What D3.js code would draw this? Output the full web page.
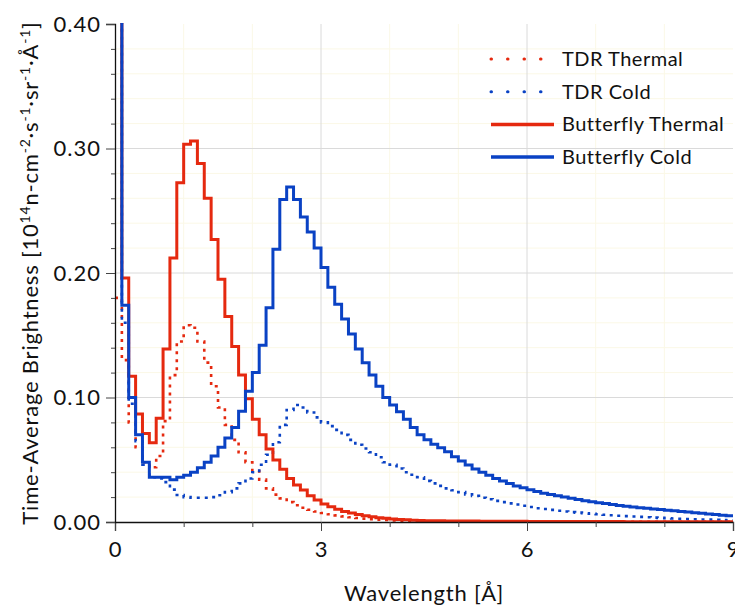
<!DOCTYPE html>
<html>
<head>
<meta charset="utf-8">
<script src="https://cdn.jsdelivr.net/npm/d3@7"></script>
<style>
  body { margin: 0; background: #fff; }
  svg { display: block; font-family: Lato, "DejaVu Sans", sans-serif; }
</style>
</head>
<body>
<div id="chart"></div>
<script>
// Time-average brightness spectra, 0.1 A bins from 0 to 9 A

const binWidth = 0.1;
const xTicks = [0, 3, 6, 9];
const xMinorTicks = [1, 2, 4, 5, 7, 8];
const yTicks = [0, 0.1, 0.2, 0.3, 0.4];
const yMinorTicks = [0.02, 0.04, 0.06, 0.08, 0.12, 0.14, 0.16, 0.18, 0.22, 0.24, 0.26, 0.28, 0.32, 0.34, 0.36, 0.38];

const seriesNames = ["TDR Thermal", "TDR Cold", "Butterfly Thermal", "Butterfly Cold"];

const tdrThermal = [
  0.18, 0.13, 0.08, 0.06, 0.048, 0.044, 0.053, 0.081, 0.118, 0.145,
  0.158, 0.156, 0.145, 0.128, 0.109, 0.092, 0.078, 0.066, 0.056, 0.048,
  0.041, 0.034, 0.027, 0.022, 0.019, 0.016, 0.0135, 0.0115, 0.0098, 0.0084,
  0.0072, 0.0062, 0.0053, 0.0045, 0.0038, 0.0032, 0.0027, 0.0023, 0.0019, 0.0016,
  0.0013, 0.0011, 0.0009, 0.0008, 0.0007, 0.0006, 0.0005, 0.0005, 0.0004, 0.0004,
  0.0004, 0.0003, 0.0003, 0.0003, 0.0003, 0.0002, 0.0002, 0.0002, 0.0002, 0.0002,
  0.0002, 0.0002, 0.0001, 0.0001, 0.0001, 0.0001, 0.0001, 0.0001, 0.0001, 0.0001,
  0.0001, 0.0001, 0.0001, 0.0001, 0.0001, 0.0001, 0.0001, 0.0001, 0.0001, 0.0001,
  0.0001, 0.0001, 0.0001, 0.0001, 0.0001, 0.0001, 0.0001, 0.0001, 0.0001, 0.0001
];

const tdrCold = [
  0.50, 0.16, 0.095, 0.065, 0.046, 0.036, 0.035, 0.032, 0.026, 0.0217,
  0.020, 0.0195, 0.0195, 0.0195, 0.020, 0.0215, 0.024, 0.027, 0.031, 0.035,
  0.040, 0.046, 0.054, 0.064, 0.078, 0.090, 0.094, 0.092, 0.088, 0.084,
  0.080, 0.077, 0.074, 0.070, 0.066, 0.062, 0.059, 0.056, 0.052, 0.048,
  0.046, 0.043, 0.040, 0.038, 0.036, 0.033, 0.031, 0.029, 0.027, 0.0255,
  0.024, 0.0222, 0.021, 0.0195, 0.0183, 0.017, 0.016, 0.015, 0.014, 0.013,
  0.012, 0.011, 0.0104, 0.0097, 0.009, 0.0084, 0.0079, 0.0075, 0.007, 0.0066,
  0.0062, 0.0058, 0.0054, 0.005, 0.0047, 0.0044, 0.0041, 0.0038, 0.0035, 0.0033,
  0.003, 0.0028, 0.0026, 0.0024, 0.0022, 0.002, 0.0019, 0.0017, 0.0015, 0.0013
];

const butterflyThermal = [
  0.50, 0.196, 0.117, 0.0867, 0.071, 0.0637, 0.0833, 0.139, 0.212, 0.2725,
  0.3034, 0.306, 0.288, 0.260, 0.227, 0.195, 0.165, 0.141, 0.118, 0.099,
  0.0825, 0.070, 0.0586, 0.0498, 0.0423, 0.035, 0.0297, 0.0257, 0.0211, 0.0177,
  0.0145, 0.0123, 0.0102, 0.0085, 0.0072, 0.006, 0.005, 0.0042, 0.0035, 0.003,
  0.0025, 0.0021, 0.0018, 0.0015, 0.0013, 0.0011, 0.001, 0.001, 0.0009, 0.0009,
  0.0008, 0.0008, 0.0008, 0.0007, 0.0007, 0.0007, 0.0006, 0.0006, 0.0006, 0.0006,
  0.0005, 0.0005, 0.0005, 0.0005, 0.0005, 0.0005, 0.0004, 0.0004, 0.0004, 0.0004,
  0.0004, 0.0004, 0.0004, 0.0004, 0.0003, 0.0003, 0.0003, 0.0003, 0.0003, 0.0003,
  0.0003, 0.0003, 0.0003, 0.0003, 0.0003, 0.0003, 0.0003, 0.0003, 0.0003, 0.0003
];

const butterflyCold = [
  0.90, 0.174, 0.100, 0.070, 0.048, 0.036, 0.036, 0.036, 0.034, 0.036,
  0.0375, 0.040, 0.0436, 0.048, 0.053, 0.060, 0.0675, 0.076, 0.089, 0.105,
  0.120, 0.142, 0.172, 0.219, 0.259, 0.269, 0.259, 0.245, 0.233, 0.220,
  0.2045, 0.1885, 0.175, 0.163, 0.151, 0.139, 0.128, 0.118, 0.109, 0.100,
  0.094, 0.0886, 0.0825, 0.076, 0.070, 0.066, 0.0624, 0.0597, 0.0565, 0.0525,
  0.049, 0.0458, 0.0425, 0.040, 0.0375, 0.035, 0.033, 0.031, 0.029, 0.0275,
  0.026, 0.0245, 0.023, 0.022, 0.021, 0.020, 0.019, 0.018, 0.017, 0.0162,
  0.0155, 0.0148, 0.014, 0.0133, 0.0127, 0.012, 0.0115, 0.011, 0.0105, 0.010,
  0.0095, 0.009, 0.0085, 0.008, 0.0075, 0.007, 0.0065, 0.006, 0.0055, 0.005
];

const RED = "#e5290f";
const BLUE = "#0a42c4";

const seriesStyle = [
  { values: tdrThermal, color: RED, dash: "3,5" },
  { values: tdrCold, color: BLUE, dash: "3,5" },
  { values: butterflyThermal, color: RED, dash: null },
  { values: butterflyCold, color: BLUE, dash: null }
];

const width = 735, height = 606;
const margin = { top: 24, right: 2, bottom: 84, left: 115 };

const svg = d3.select("#chart").append("svg")
  .attr("width", width)
  .attr("height", height);

const x = d3.scaleLinear().domain([0, 9]).range([margin.left, width - margin.right]);
const y = d3.scaleLinear().domain([0, 0.4]).range([height - margin.bottom, margin.top]);

// grid: faint minor lines, then light gray major lines
const grid = svg.append("g");
grid.selectAll(".vminor").data(xMinorTicks).join("line")
  .attr("x1", d => x(d)).attr("x2", d => x(d))
  .attr("y1", y(0)).attr("y2", y(0.4))
  .attr("stroke", "#fbf8e6").attr("stroke-width", 1);
grid.selectAll(".hminor").data(yMinorTicks).join("line")
  .attr("x1", x(0)).attr("x2", x(9))
  .attr("y1", d => y(d)).attr("y2", d => y(d))
  .attr("stroke", "#fbf8e6").attr("stroke-width", 1);
grid.selectAll(".vmajor").data(xTicks.slice(1, 3)).join("line")
  .attr("x1", d => x(d)).attr("x2", d => x(d))
  .attr("y1", y(0)).attr("y2", y(0.4))
  .attr("stroke", "#dadada").attr("stroke-width", 1);
grid.selectAll(".hmajor").data(yTicks.slice(1, 4)).join("line")
  .attr("x1", x(0)).attr("x2", x(9))
  .attr("y1", d => y(d)).attr("y2", d => y(d))
  .attr("stroke", "#dadada").attr("stroke-width", 1);

svg.append("clipPath").attr("id", "plot-clip")
  .append("rect")
  .attr("x", x(0)).attr("y", y(0.4) - 1)
  .attr("width", x(9) - x(0) + 2).attr("height", y(0) - y(0.4) + 1);

const line = d3.line()
  .x(d => x(d[0]))
  .y(d => y(d[1]))
  .curve(d3.curveStepAfter);

function stepPoints(values) {
  const pts = values.map((v, i) => [i * binWidth, v]);
  pts.push([values.length * binWidth, values[values.length - 1]]);
  return pts;
}

const plot = svg.append("g").attr("clip-path", "url(#plot-clip)");
seriesStyle.forEach(s => {
  plot.append("path")
    .attr("d", line(stepPoints(s.values)))
    .attr("fill", "none")
    .attr("stroke", s.color)
    .attr("stroke-width", s.dash ? 2.6 : 3)
    .attr("stroke-dasharray", s.dash)
    .attr("stroke-linejoin", "miter");
});

// axes
svg.append("g")
  .attr("transform", `translate(0,${y(0)})`)
  .call(d3.axisBottom(x).tickValues(xTicks).tickSize(9).tickPadding(10).tickFormat(d3.format("d")));
svg.append("g")
  .attr("transform", `translate(0,${y(0)})`)
  .call(d3.axisBottom(x).tickValues(xMinorTicks).tickSize(5).tickFormat(""))
  .call(g => g.select(".domain").remove());

svg.append("g")
  .attr("transform", `translate(${x(0)},0)`)
  .call(d3.axisLeft(y).tickValues(yTicks).tickSize(9).tickPadding(5).tickFormat(d3.format(".2f")));
svg.append("g")
  .attr("transform", `translate(${x(0)},0)`)
  .call(d3.axisLeft(y).tickValues(yMinorTicks).tickSize(4).tickFormat(""))
  .call(g => g.select(".domain").remove());

svg.selectAll(".domain").attr("stroke", "#111").attr("stroke-width", 1.3);
svg.selectAll(".tick line").attr("stroke", "#444");
svg.selectAll(".tick text")
  .attr("font-family", "Lato, sans-serif")
  .attr("font-size", 22)
  .attr("letter-spacing", 1)
  .attr("fill", "#111");

// axis titles
svg.append("text")
  .attr("x", (x(0) + x(9)) / 2)
  .attr("y", 601)
  .attr("text-anchor", "middle")
  .attr("font-size", 22)
  .attr("letter-spacing", 0.8)
  .attr("fill", "#111")
  .text("Wavelength [Å]");

const yTitle = svg.append("text")
  .attr("transform", `translate(38,${(y(0) + y(0.4)) / 2}) rotate(-90)`)
  .attr("text-anchor", "middle")
  .attr("font-size", 22)
  .attr("letter-spacing", 0.8)
  .attr("fill", "#111");
const titleParts = [
  ["Time-Average Brightness [10", false], ["14", true], ["n-cm", false], ["-2", true],
  ["·s", false], ["-1", true], ["·sr", false], ["-1", true], ["·Å", false], ["-1", true], ["]", false]
];
titleParts.forEach(([t, sup]) => {
  yTitle.append("tspan")
    .attr("baseline-shift", sup ? "super" : null)
    .attr("font-size", sup ? 14 : null)
    .text(t);
});

// legend
const legend = svg.append("g");
seriesNames.forEach((name, i) => {
  const s = seriesStyle[i];
  const ly = 59 + i * 32.7;
  legend.append("line")
    .attr("x1", 491).attr("x2", 554)
    .attr("y1", ly).attr("y2", ly)
    .attr("stroke", s.color)
    .attr("stroke-width", s.dash ? 3 : 3.5)
    .attr("stroke-linecap", s.dash ? "round" : "butt")
    .attr("stroke-dasharray", s.dash ? "0.5,16" : null);
  legend.append("text")
    .attr("x", 562).attr("y", ly + 7)
    .attr("font-size", 20)
    .attr("letter-spacing", 0.5)
    .attr("fill", "#111")
    .text(name);
});
</script>
</body>
</html>
